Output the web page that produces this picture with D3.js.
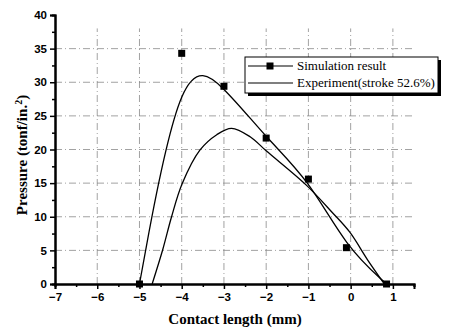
<!DOCTYPE html>
<html>
<head>
<meta charset="utf-8">
<script src="https://cdn.jsdelivr.net/npm/d3@7"></script>
<style>
  body { margin: 0; background: #fff; }
  .tick text { font-family: "Liberation Sans", Arial, sans-serif; font-weight: bold; font-size: 11.5px; }
</style>
</head>
<body>
<div class="svgContainer"></div>
<script>
// simulation result (squares, drawn as B-spline)
const simX = [-5, -4, -3, -2, -1, -0.1, 0.85];
const simY = [0, 34.3, 29.4, 21.7, 15.6, 5.4, 0];
// experiment (stroke 52.6%)
const expX = [-4.7, -4.45, -4.24, -3.99, -3.57, -3.17, -2.82, -2.38, -2.0, -1.05, -0.43, -0.02, 0.4, 0.8];
const expY = [0, 5.1, 10, 14.9, 19.9, 22.2, 23.15, 21.9, 19.8, 14.7, 10.6, 7.7, 3.6, 0];
const xTicks = [-7, -6, -5, -4, -3, -2, -1, 0, 1];
const yTicks = [0, 5, 10, 15, 20, 25, 30, 35, 40];
const legendLabels = ['Simulation result', 'Experiment(stroke 52.6%)'];

const width = 450;
const height = 329;
const plotLeft = 55, plotRight = 414, plotTop = 15, plotBottom = 284;

const svg = d3.select('.svgContainer').append('svg')
  .attr('width', width)
  .attr('height', height);

const x = d3.scaleLinear().domain([-7, 1.5]).range([plotLeft, plotRight]);
const y = d3.scaleLinear().domain([0, 40]).range([plotBottom, plotTop]);

// grid
const grid = svg.append('g')
  .attr('stroke', '#8a8a8a')
  .attr('stroke-width', 0.8)
  .attr('stroke-dasharray', '7,3,1,3');
grid.selectAll('line.gx')
  .data(xTicks.filter(d => d > -7))
  .enter().append('line')
  .attr('x1', d => x(d)).attr('x2', d => x(d))
  .attr('y1', y(0)).attr('y2', y(38));
grid.selectAll('line.gy')
  .data(yTicks.filter(d => d > 0 && d < 40))
  .enter().append('line')
  .attr('x1', x(-7)).attr('x2', x(1.5))
  .attr('y1', d => y(d)).attr('y2', d => y(d));

// axes
const xAxis = d3.axisBottom(x).tickValues(xTicks).tickSize(5).tickPadding(4).tickFormat(d3.format('d'));
const xMinor = d3.axisBottom(x).tickValues(d3.range(-6.5, 1.6, 1)).tickSize(3).tickFormat('');
const yAxis = d3.axisLeft(y).tickValues(yTicks).tickSize(5).tickPadding(3);
const yMinor = d3.axisLeft(y).tickValues(d3.range(2.5, 40, 5)).tickSize(3).tickFormat('');

function styleAxis(g) {
  g.select('.domain').attr('stroke-width', 2);
  g.selectAll('.tick line').attr('stroke-width', 1.5);
}

svg.append('g').attr('transform', 'translate(0,' + plotBottom + ')').call(xMinor).call(styleAxis);
svg.append('g').attr('transform', 'translate(0,' + plotBottom + ')').call(xAxis).call(styleAxis);
svg.append('g').attr('transform', 'translate(' + plotLeft + ',0)').call(yMinor).call(styleAxis);
svg.append('g').attr('transform', 'translate(' + plotLeft + ',0)').call(yAxis).call(styleAxis);

// curves
const simData = simX.map((d, i) => ({x: d, y: simY[i]}));
const expData = expX.map((d, i) => ({x: d, y: expY[i]}));

svg.append('path')
  .datum(simData)
  .attr('fill', 'none')
  .attr('stroke', '#000')
  .attr('stroke-width', 1.3)
  .attr('d', d3.line().x(d => x(d.x)).y(d => y(d.y)).curve(d3.curveBasis));

svg.append('path')
  .datum(expData)
  .attr('fill', 'none')
  .attr('stroke', '#000')
  .attr('stroke-width', 1.3)
  .attr('d', d3.line().x(d => x(d.x)).y(d => y(d.y)).curve(d3.curveCatmullRom));

svg.selectAll('rect.pt')
  .data(simData)
  .enter().append('rect')
  .attr('class', 'pt')
  .attr('x', d => x(d.x) - 3.5)
  .attr('y', d => y(d.y) - 3.5)
  .attr('width', 7)
  .attr('height', 7)
  .attr('fill', '#000');

// legend
const lg = svg.append('g');
lg.append('rect').attr('x', 248).attr('y', 60).attr('width', 193).attr('height', 36).attr('fill', '#000');
lg.append('rect').attr('x', 245).attr('y', 57).attr('width', 193).attr('height', 36)
  .attr('fill', '#fff').attr('stroke', '#000').attr('stroke-width', 1);
legendLabels.forEach((label, i) => {
  const cy = 66 + i * 17;
  lg.append('line').attr('x1', 248).attr('x2', 293).attr('y1', cy).attr('y2', cy)
    .attr('stroke', '#000').attr('stroke-width', 1.2);
  if (i === 0) {
    lg.append('rect').attr('x', 270 - 3.5).attr('y', cy - 3.5).attr('width', 7).attr('height', 7).attr('fill', '#000');
  }
  lg.append('text').attr('x', 297).attr('y', cy + 4)
    .attr('font-family', '"Liberation Serif", "Times New Roman", serif')
    .attr('font-size', 13)
    .text(label);
});

// axis titles
svg.append('text')
  .attr('x', 235).attr('y', 324)
  .attr('text-anchor', 'middle')
  .attr('font-family', '"Liberation Serif", "Times New Roman", serif')
  .attr('font-weight', 'bold')
  .attr('font-size', 15)
  .text('Contact length (mm)');

const yt = svg.append('text')
  .attr('transform', 'translate(27,155) rotate(-90)')
  .attr('text-anchor', 'middle')
  .attr('font-family', '"Liberation Serif", "Times New Roman", serif')
  .attr('font-weight', 'bold')
  .attr('font-size', 15);
yt.append('tspan').text('Pressure (tonf/in.');
yt.append('tspan').attr('dy', -5).attr('font-size', 10).text('2');
yt.append('tspan').attr('dy', 5).text(')');
</script>
</body>
</html>
